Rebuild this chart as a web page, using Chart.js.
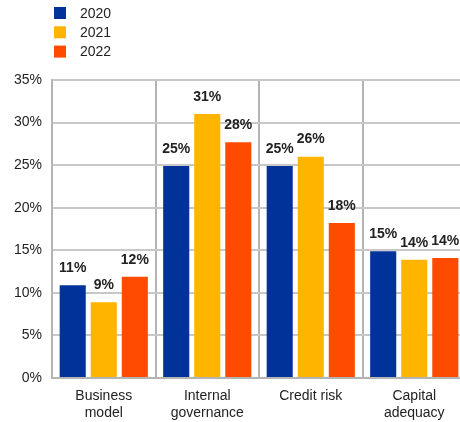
<!DOCTYPE html>
<html>
<head>
<meta charset="utf-8">
<script src="https://cdn.jsdelivr.net/npm/chart.js@4"></script>
<style>
  html, body { margin: 0; padding: 0; background: #fff; overflow: hidden; }
  #wrap { width: 466px; height: 422px; }
</style>
</head>
<body>
<div id="wrap"><canvas id="myChart"></canvas></div>
<script>
// chart data
const categories = [['Business', 'model'], ['Internal', 'governance'], 'Credit risk', ['Capital', 'adequacy']];
const years = ['2020', '2021', '2022'];
const values2020 = [10.9, 24.9, 24.9, 14.9];
const values2021 = [8.9, 31.0, 26.0, 13.9];
const values2022 = [11.9, 27.7, 18.2, 14.1];
const labels2020 = ['11%', '25%', '25%', '15%'];
const labels2021 = ['9%', '31%', '26%', '14%'];
const labels2022 = ['12%', '28%', '18%', '14%'];
const colors = ['#003299', '#FFB400', '#FF4B00'];

const FONT = '"Liberation Sans", Arial, sans-serif';

// legend stacked in the top left corner
const stackedLegend = {
  id: 'stackedLegend',
  afterDraw(chart) {
    const c = chart.ctx;
    c.save();
    c.font = '14px ' + FONT;
    c.textBaseline = 'middle';
    chart.data.datasets.forEach((ds, i) => {
      const y = 13 + i * 19.3;
      c.fillStyle = ds.backgroundColor;
      c.fillRect(54, y - 6, 12, 12);
      c.fillStyle = '#222';
      c.fillText(ds.label, 80, y + 1);
    });
    c.restore();
  }
};

// value labels above the bars
const barLabels = {
  id: 'barLabels',
  afterDatasetsDraw(chart) {
    const c = chart.ctx;
    c.save();
    c.font = 'bold 14px ' + FONT;
    c.fillStyle = '#222';
    c.textAlign = 'center';
    c.textBaseline = 'bottom';
    chart.data.datasets.forEach((ds, i) => {
      chart.getDatasetMeta(i).data.forEach((bar, j) => {
        c.fillText(ds.valueLabels[j], bar.x, bar.y - 10);
      });
    });
    c.restore();
  }
};

const ctx = document.getElementById('myChart');

new Chart(ctx, {
  type: 'bar',
  data: {
    labels: categories,
    datasets: [
      { label: years[0], data: values2020, valueLabels: labels2020, backgroundColor: colors[0] },
      { label: years[1], data: values2021, valueLabels: labels2021, backgroundColor: colors[1] },
      { label: years[2], data: values2022, valueLabels: labels2022, backgroundColor: colors[2] }
    ]
  },
  options: {
    responsive: true,
    maintainAspectRatio: false,
    animation: false,
    categoryPercentage: 0.9,
    barPercentage: 0.84,
    layout: { padding: { top: 80, left: 4, right: 0, bottom: 0 } },
    plugins: {
      legend: { display: false },
      tooltip: { enabled: false }
    },
    scales: {
      x: {
        grid: { color: '#b4b4b4', lineWidth: 2, drawTicks: false, offset: true },
        border: { color: '#b4b4b4', width: 2 },
        ticks: { color: '#222', font: { family: FONT, size: 14, lineHeight: 1.2 }, padding: 10, maxRotation: 0 },
        afterFit: s => { s.height = 44; }
      },
      y: {
        min: 0,
        max: 35,
        grid: { color: '#c8c8c8', lineWidth: 2, drawTicks: false },
        border: { color: '#b4b4b4', width: 2 },
        ticks: {
          stepSize: 5,
          color: '#222',
          font: { family: FONT, size: 14 },
          padding: 10,
          callback: v => v + '%'
        }
      }
    }
  },
  plugins: [stackedLegend, barLabels]
});
</script>
</body>
</html>
